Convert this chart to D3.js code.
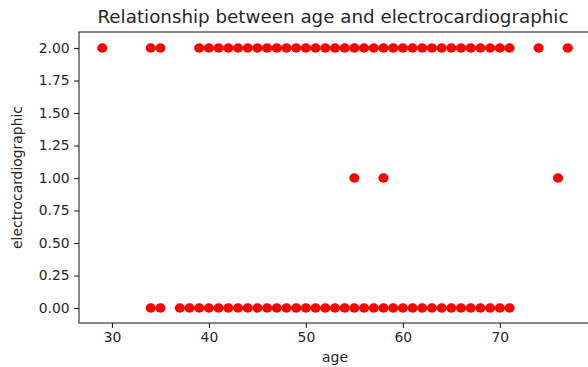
<!DOCTYPE html>
<html>
<head>
<meta charset="utf-8">
<script src="https://cdn.jsdelivr.net/npm/d3@7"></script>
<style>
  body { margin: 0; background: #fff; }
  text { font-family: "DejaVu Sans", sans-serif; fill: #262626; }
</style>
</head>
<body>
<svg id="chart" width="588" height="367"></svg>
<script>
// ages observed for each electrocardiographic value
const ages_ecg2 = [29, 34, 35, 39, 40, 41, 42, 43, 44, 45, 46, 47, 48, 49, 50, 51, 52, 53, 54, 55,
  56, 57, 58, 59, 60, 61, 62, 63, 64, 65, 66, 67, 68, 69, 70, 71, 74, 77];
const ages_ecg1 = [55, 58, 76];
const ages_ecg0 = [34, 35, 37, 38, 39, 40, 41, 42, 43, 44, 45, 46, 47, 48, 49, 50, 51, 52, 53, 54,
  55, 56, 57, 58, 59, 60, 61, 62, 63, 64, 65, 66, 67, 68, 69, 70, 71];

const xTicks = [30, 40, 50, 60, 70];
const yTicks = [0, 0.25, 0.5, 0.75, 1, 1.25, 1.5, 1.75, 2];

let points = [];
ages_ecg2.forEach(a => points.push({age: a, ecg: 2}));
ages_ecg1.forEach(a => points.push({age: a, ecg: 1}));
ages_ecg0.forEach(a => points.push({age: a, ecg: 0}));

const plotLeft = 79, plotRight = 591, plotTop = 32, plotBottom = 323;

const xScale = d3.scaleLinear().domain([26.6, 79.4]).range([plotLeft, plotRight]);
const yScale = d3.scaleLinear().domain([-0.115, 2.123]).range([plotBottom, plotTop]);

const svg = d3.select('#chart');

svg.selectAll('.dot')
  .data(points)
  .enter()
  .append('ellipse')
  .classed('dot', true)
  .attr('cx', d => xScale(d.age))
  .attr('cy', d => yScale(d.ecg))
  .attr('rx', 5.1)
  .attr('ry', 4.7)
  .attr('fill', '#ff0000');

const xAxis = svg.append('g')
  .attr('transform', `translate(0,${plotBottom})`)
  .call(d3.axisBottom(xScale).tickValues(xTicks).tickSize(4.9).tickPadding(4.5).tickFormat(d3.format('d')));

const yAxis = svg.append('g')
  .attr('transform', `translate(${plotLeft},0)`)
  .call(d3.axisLeft(yScale).tickValues(yTicks).tickSize(4.9).tickPadding(4.5).tickFormat(d3.format('.2f')));

[xAxis, yAxis].forEach(g => {
  g.select('.domain').remove();
  g.selectAll('.tick line').attr('stroke', '#262626').attr('stroke-width', 1.1);
  g.selectAll('.tick text').attr('font-size', '13.9px').attr('fill', '#262626')
    .attr('font-family', '"DejaVu Sans", sans-serif');
});

// frame
svg.append('rect')
  .attr('x', plotLeft).attr('y', plotTop)
  .attr('width', plotRight - plotLeft).attr('height', plotBottom - plotTop)
  .attr('fill', 'none').attr('stroke', '#262626').attr('stroke-width', 1.1);

svg.append('text')
  .attr('x', 333).attr('y', 23)
  .attr('text-anchor', 'middle')
  .attr('font-size', '18.3px')
  .text('Relationship between age and electrocardiographic');

svg.append('text')
  .attr('x', (plotLeft + plotRight) / 2).attr('y', 362)
  .attr('text-anchor', 'middle')
  .attr('font-size', '13.9px')
  .text('age');

svg.append('text')
  .attr('transform', `translate(22,${(plotTop + plotBottom) / 2}) rotate(-90)`)
  .attr('text-anchor', 'middle')
  .attr('font-size', '13.9px')
  .text('electrocardiographic');
</script>
</body>
</html>
